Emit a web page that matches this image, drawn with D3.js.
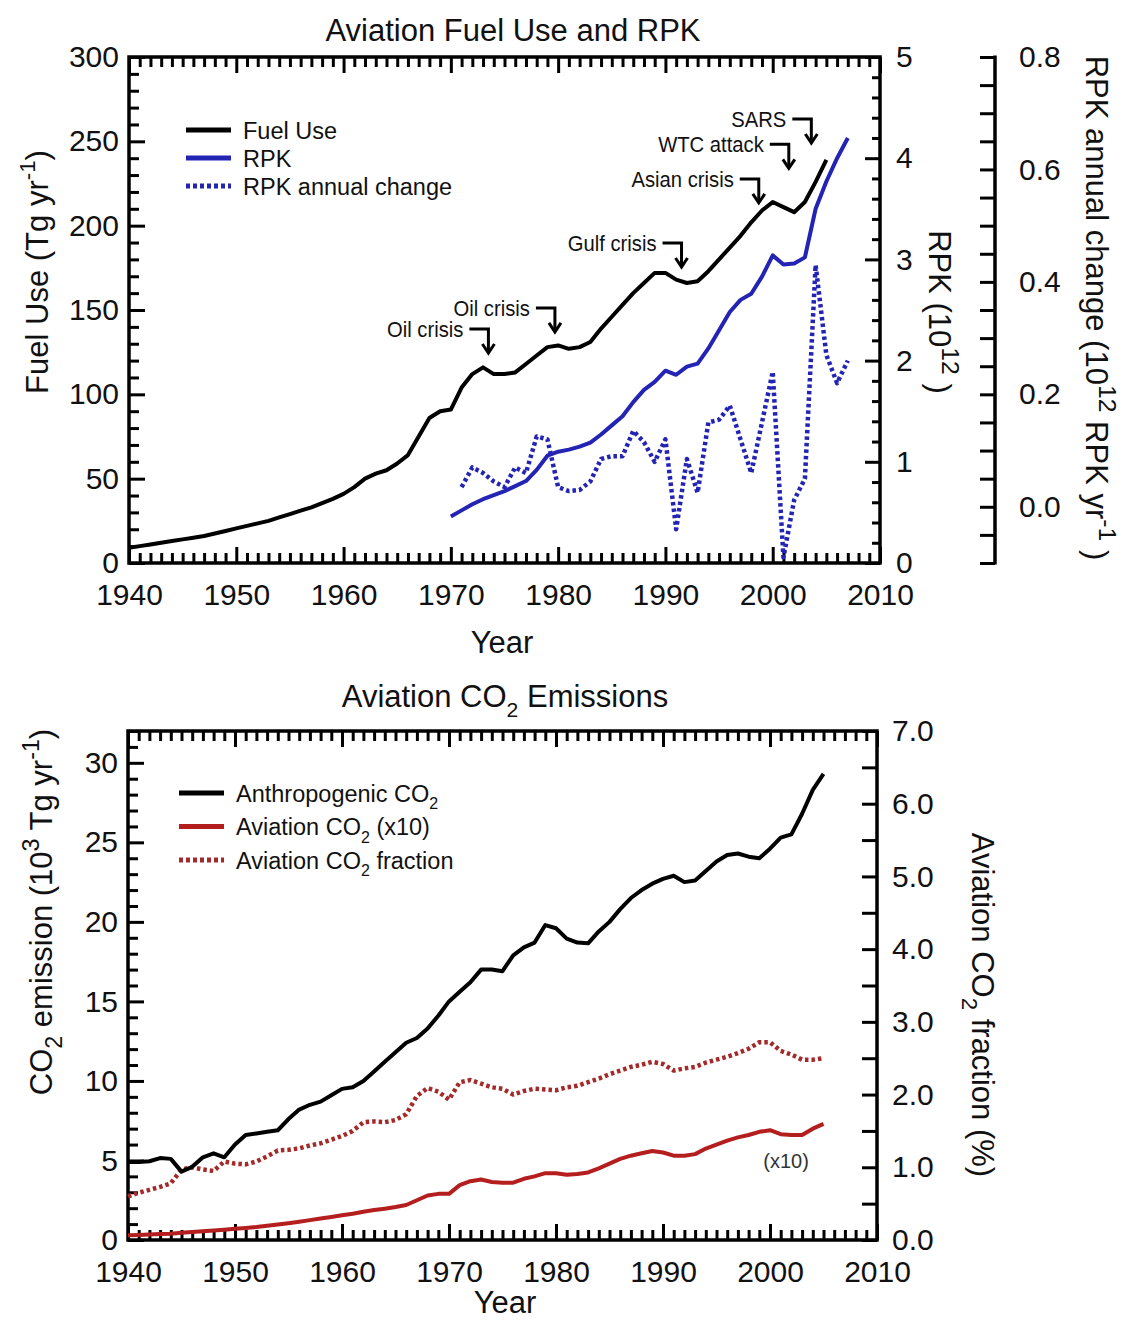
<!DOCTYPE html>
<html>
<head>
<meta charset="utf-8">
<title>Aviation fuel use, RPK and CO2</title>
<script src="https://cdn.jsdelivr.net/npm/d3@7"></script>
<style>
  body { margin: 0; background: #fff; }
  text { font-family: "Liberation Sans", Arial, Helvetica, sans-serif; fill: #111; }
</style>
</head>
<body>
<svg id="fig" width="1125" height="1322"></svg>
<script>
// ---- values ----
var fuelYears = d3.range(1940, 2006);
var fuelUse = [
    9, 10, 11, 12, 13, 14, 15, 16, 17.5, 19,
    20.5, 22, 23.5, 25, 27, 29, 31, 33, 35.5, 38,
    41, 45, 50, 53, 55, 59, 64, 75, 86, 90,
    91, 104, 112, 116, 112, 112, 113, 118, 123, 128,
    129, 127, 128, 131, 139, 146, 153, 160, 166, 172,
    172, 168, 166, 167, 173, 180, 187, 194, 202, 209,
    214, 211, 208, 214, 226, 239
];
var rpkYears = d3.range(1970, 2008);
var rpk = [
    0.46, 0.52, 0.58, 0.63, 0.67, 0.71, 0.76, 0.81, 0.92, 1.06,
    1.10, 1.12, 1.15, 1.19, 1.27, 1.36, 1.45, 1.59, 1.71, 1.79,
    1.90, 1.86, 1.94, 1.97, 2.12, 2.30, 2.48, 2.60, 2.66, 2.83,
    3.04, 2.95, 2.96, 3.02, 3.50, 3.77, 4.00, 4.20
];
var rpkChangeYears = d3.range(1971, 2008);
var rpkChange = [
    0.035, 0.07, 0.06, 0.045, 0.035, 0.07, 0.06, 0.125, 0.12,
    0.035, 0.028, 0.03, 0.045, 0.085, 0.09, 0.09, 0.135, 0.115, 0.08,
    0.12, -0.04, 0.085, 0.025, 0.15, 0.155, 0.18, 0.12, 0.06, 0.15,
    0.24, -0.09, 0.012, 0.05, 0.43, 0.27, 0.22, 0.26
];
var crisisLabels = ["Oil crisis", "Oil crisis", "Gulf crisis", "Asian crisis", "WTC attack", "SARS"];
var crisisYears = [1973.5, 1979.7, 1991.5, 1998.7, 2001.5, 2003.6];
var crisisTips = [124.5, 137, 175.5, 213.5, 234, 249];   // Tg yr-1, where each arrow points

var co2Years = d3.range(1940, 2006);
var anthroCO2 = [
    4.9, 4.9, 4.95, 5.15, 5.1, 4.3, 4.6, 5.2, 5.45, 5.2,
    6.0, 6.6, 6.7, 6.8, 6.9, 7.6, 8.2, 8.5, 8.7, 9.1,
    9.5, 9.6, 10.0, 10.6, 11.2, 11.8, 12.4, 12.7, 13.3, 14.1,
    15.0, 15.6, 16.2, 17.0, 17.0, 16.9, 17.9, 18.4, 18.7, 19.8,
    19.6, 18.95, 18.7, 18.65, 19.4, 20.0, 20.8, 21.5, 22.0, 22.4,
    22.7, 22.9, 22.5, 22.6, 23.2, 23.8, 24.2, 24.3, 24.1, 24.0,
    24.6, 25.3, 25.5, 26.8, 28.3, 29.3
];
var aviationCO2x10 = [
    0.3, 0.32, 0.35, 0.38, 0.4, 0.45, 0.5, 0.55, 0.6, 0.65,
    0.7, 0.76, 0.82, 0.9, 0.98, 1.06, 1.15, 1.25, 1.35, 1.45,
    1.55, 1.65, 1.78, 1.88, 1.97, 2.07, 2.2, 2.5, 2.8, 2.9,
    2.9, 3.45, 3.7, 3.8, 3.65, 3.6, 3.6, 3.85, 4.0, 4.2,
    4.2, 4.1, 4.15, 4.25, 4.5, 4.8, 5.1, 5.3, 5.45, 5.6,
    5.5, 5.3, 5.3, 5.4, 5.75, 6.0, 6.25, 6.45, 6.6, 6.8,
    6.9, 6.65, 6.6, 6.6, 7.0, 7.3
];
var aviationFraction = [
    0.6, 0.65, 0.69, 0.73, 0.78, 0.97, 1.0, 0.97, 0.95, 1.08,
    1.05, 1.04, 1.08, 1.15, 1.23, 1.24, 1.26, 1.3, 1.33, 1.38,
    1.43, 1.5, 1.62, 1.63, 1.62, 1.65, 1.73, 1.98, 2.09, 2.04,
    1.93, 2.17, 2.2, 2.15, 2.1, 2.08, 2.0, 2.05, 2.08, 2.07,
    2.06, 2.1, 2.12, 2.17, 2.22, 2.28, 2.33, 2.38, 2.41, 2.45,
    2.42, 2.33, 2.36, 2.38, 2.44, 2.48, 2.52, 2.57, 2.63, 2.72,
    2.72, 2.6, 2.55, 2.48, 2.48, 2.5
];

var decades = d3.range(1940, 2011, 10);
var fuelTicks = d3.range(0, 301, 50);
var rpkTicks = [0, 1, 2, 3, 4, 5];
var rpkChangeTicks = [0.0, 0.2, 0.4, 0.6, 0.8];
var co2Ticks = [0, 5, 10, 15, 20, 25, 30];
var fractionTicks = [0, 1, 2, 3, 4, 5, 6, 7];

// ---- drawing ----
var svg = d3.select("#fig");
var BLUE = "#2424b4", RED = "#b41e1e", RED_DOT = "#a42a2a";
var TICK_FONT = 30, LABEL_FONT = 31;

// text with sub/superscripts, parts = [[str, "sup" | "sub" | ""], ...]
function richText(t, parts, size, small) {
    var shift = 0;
    small = small || 0.68;
    parts.forEach(function(p) {
        var target = p[1] == "sup" ? -0.42 * size : (p[1] == "sub" ? 0.32 * size : 0);
        t.append("tspan")
            .attr("dy", target - shift)
            .attr("font-size", p[1] ? size * small : size)
            .text(p[0]);
        shift = target;
    });
    return t;
}

function addAxis(g, make, scale, transform, values, len, fmt, pad) {
    var ax = make(scale).tickValues(values)
        .tickSizeInner(-len).tickSizeOuter(0).tickPadding(pad || 0)
        .tickFormat(fmt || function() { return ""; });
    var a = g.append("g").attr("transform", transform).call(ax);
    a.select(".domain").remove();
    a.selectAll("line").attr("stroke", "#000").attr("stroke-width", 3);
    a.selectAll("text").attr("font-size", TICK_FONT).attr("fill", "#111");
    return a;
}

function minorOf(lo, hi, step, majors) {
    return d3.range(Math.round((hi - lo) / step) + 1)
        .map(function(i) { return +(lo + i * step).toFixed(4); })
        .filter(function(v) { return majors.indexOf(v) < 0; });
}

function yearAxes(g, x, box) {
    var minorYears = minorOf(1940, 2010, 1, decades);
    addAxis(g, d3.axisBottom, x, "translate(0," + box.b + ")", decades, 16, d3.format("d"), 21);
    addAxis(g, d3.axisBottom, x, "translate(0," + box.b + ")", minorYears, 10);
    addAxis(g, d3.axisTop, x, "translate(0," + box.t + ")", decades, 16);
    addAxis(g, d3.axisTop, x, "translate(0," + box.t + ")", minorYears, 10);
}

function frameRect(g, box) {
    g.append("rect")
        .attr("x", box.l).attr("y", box.t)
        .attr("width", box.r - box.l).attr("height", box.b - box.t)
        .attr("fill", "none").attr("stroke", "#000").attr("stroke-width", 3.5);
}

function series(g, xs, ys, x, y, color, dotted) {
    var path = g.append("path")
        .datum(d3.zip(xs, ys))
        .attr("fill", "none")
        .attr("stroke", color)
        .attr("stroke-width", 4)
        .attr("stroke-linejoin", "round")
        .attr("d", d3.line().x(function(d) { return x(d[0]); }).y(function(d) { return y(d[1]); }));
    if (dotted) path.attr("stroke-dasharray", "3.5,3").attr("stroke-width", 4.5);
    return path;
}

function legend(g, x0, y0, dy, items) {
    items.forEach(function(it, i) {
        var yy = y0 + i * dy;
        var l = g.append("line").attr("x1", x0).attr("x2", x0 + 45).attr("y1", yy).attr("y2", yy)
            .attr("stroke", it.color).attr("stroke-width", 5);
        if (it.dotted) l.attr("stroke-dasharray", "4,3");
        richText(g.append("text").attr("x", x0 + 57).attr("y", yy + 8.5), it.parts, 23.5);
    });
}

// ===== top panel: fuel use and RPK =====
(function() {
    var box = {l: 129, r: 880, t: 57, b: 563};
    var g = svg.append("g");
    var x = d3.scaleLinear().domain([1940, 2010]).range([box.l, box.r]);
    var yFuel = d3.scaleLinear().domain([0, 300]).range([box.b, box.t]);
    var yRpk = d3.scaleLinear().domain([0, 5]).range([box.b, box.t]);
    var yChange = d3.scaleLinear().domain([-0.1, 0.8]).range([box.b, box.t]);

    yearAxes(g, x, box);
    addAxis(g, d3.axisLeft, yFuel, "translate(" + box.l + ",0)", fuelTicks, 16, d3.format("d"), 10);
    addAxis(g, d3.axisLeft, yFuel, "translate(" + box.l + ",0)", minorOf(0, 300, 10, fuelTicks), 10);
    addAxis(g, d3.axisRight, yRpk, "translate(" + box.r + ",0)", rpkTicks, 15, d3.format("d"), 16);
    addAxis(g, d3.axisRight, yRpk, "translate(" + box.r + ",0)", minorOf(0, 5, 0.2, rpkTicks), 8);
    frameRect(g, box);

    // detached axis for the annual change
    var farX = 995;
    g.append("line").attr("x1", farX).attr("x2", farX).attr("y1", box.t - 1.5).attr("y2", box.b + 1.5)
        .attr("stroke", "#000").attr("stroke-width", 3.5);
    addAxis(g, d3.axisRight, yChange, "translate(" + farX + ",0)", rpkChangeTicks, 15, d3.format(".1f"), 24);
    addAxis(g, d3.axisRight, yChange, "translate(" + farX + ",0)", minorOf(-0.1, 0.8, 0.05, rpkChangeTicks), 15);

    series(g, rpkChangeYears, rpkChange, x, yChange, BLUE, true);
    series(g, rpkYears, rpk, x, yRpk, BLUE, false);
    series(g, fuelYears, fuelUse, x, yFuel, "#000", false);

    // crisis arrows
    crisisLabels.forEach(function(lab, i) {
        var tx = x(crisisYears[i]), ty = yFuel(crisisTips[i]);
        g.append("path")
            .attr("d", "M" + (tx - 19) + "," + (ty - 24) + "H" + tx + "V" + (ty - 1))
            .attr("fill", "none").attr("stroke", "#000").attr("stroke-width", 3);
        g.append("path")
            .attr("d", "M" + (tx - 6) + "," + (ty - 9) + "L" + tx + "," + ty + "L" + (tx + 6) + "," + (ty - 9))
            .attr("fill", "none").attr("stroke", "#000").attr("stroke-width", 3);
        g.append("text")
            .attr("transform", "translate(" + (tx - 25) + "," + (ty - 16) + ") scale(0.92,1)")
            .attr("text-anchor", "end").attr("font-size", 22)
            .text(lab);
    });

    legend(g, 186, 130, 28, [
        {color: "#000", parts: [["Fuel Use", ""]]},
        {color: BLUE, parts: [["RPK", ""]]},
        {color: BLUE, dotted: true, parts: [["RPK annual change", ""]]}
    ]);

    g.append("text").attr("x", 513).attr("y", 41).attr("text-anchor", "middle").attr("font-size", LABEL_FONT)
        .text("Aviation Fuel Use and RPK");
    g.append("text").attr("x", 502).attr("y", 653).attr("text-anchor", "middle").attr("font-size", LABEL_FONT)
        .text("Year");
    richText(g.append("text").attr("text-anchor", "middle").attr("transform", "translate(48,272) rotate(-90)"),
        [["Fuel Use (Tg yr", ""], ["-1", "sup"], [")", ""]], LABEL_FONT, 0.72);
    richText(g.append("text").attr("text-anchor", "middle").attr("transform", "translate(929,312) rotate(90)"),
        [["RPK (10", ""], ["12", "sup"], [" )", ""]], LABEL_FONT, 0.8);
    richText(g.append("text").attr("text-anchor", "middle").attr("transform", "translate(1086,308) rotate(90)"),
        [["RPK annual change (10", ""], ["12", "sup"], [" RPK yr", ""], ["-1", "sup"], [" )", ""]], LABEL_FONT, 0.8);
})();

// ===== bottom panel: CO2 emissions =====
(function() {
    var box = {l: 128, r: 877, t: 731, b: 1240};
    var g = svg.append("g");
    var x = d3.scaleLinear().domain([1940, 2010]).range([box.l, box.r]);
    var yCo2 = d3.scaleLinear().domain([0, 32]).range([box.b, box.t]);
    var yFrac = d3.scaleLinear().domain([0, 7]).range([box.b, box.t]);

    yearAxes(g, x, box);
    addAxis(g, d3.axisLeft, yCo2, "translate(" + box.l + ",0)", co2Ticks, 16, d3.format("d"), 10);
    addAxis(g, d3.axisLeft, yCo2, "translate(" + box.l + ",0)", minorOf(0, 32, 1, co2Ticks), 10);
    addAxis(g, d3.axisRight, yFrac, "translate(" + box.r + ",0)", fractionTicks, 15, d3.format(".1f"), 15);
    addAxis(g, d3.axisRight, yFrac, "translate(" + box.r + ",0)", minorOf(0, 7, 0.5, fractionTicks), 15);
    frameRect(g, box);

    series(g, co2Years, aviationFraction, x, yFrac, RED_DOT, true);
    series(g, co2Years, aviationCO2x10, x, yCo2, RED, false);
    series(g, co2Years, anthroCO2, x, yCo2, "#000", false);

    g.append("text").attr("x", x(2001.5)).attr("y", yCo2(4.5)).attr("text-anchor", "middle")
        .attr("font-size", 20).style("fill", "#333").text("(x10)");

    legend(g, 179, 793, 33.5, [
        {color: "#000", parts: [["Anthropogenic CO", ""], ["2", "sub"]]},
        {color: RED, parts: [["Aviation CO", ""], ["2", "sub"], [" (x10)", ""]]},
        {color: RED_DOT, dotted: true, parts: [["Aviation CO", ""], ["2", "sub"], [" fraction", ""]]}
    ]);

    richText(g.append("text").attr("x", 505).attr("y", 707).attr("text-anchor", "middle"),
        [["Aviation CO", ""], ["2", "sub"], [" Emissions", ""]], LABEL_FONT);
    g.append("text").attr("x", 505).attr("y", 1313).attr("text-anchor", "middle").attr("font-size", LABEL_FONT)
        .text("Year");
    richText(g.append("text").attr("text-anchor", "middle").attr("transform", "translate(52,912) rotate(-90)"),
        [["CO", ""], ["2", "sub"], [" emission (10", ""], ["3", "sup"], [" Tg yr", ""], ["-1", "sup"], [")", ""]],
        LABEL_FONT, 0.75);
    richText(g.append("text").attr("text-anchor", "middle").attr("transform", "translate(972,1005) rotate(90)"),
        [["Aviation CO", ""], ["2", "sub"], [" fraction (%)", ""]], LABEL_FONT, 0.72);
})();
</script>
</body>
</html>
